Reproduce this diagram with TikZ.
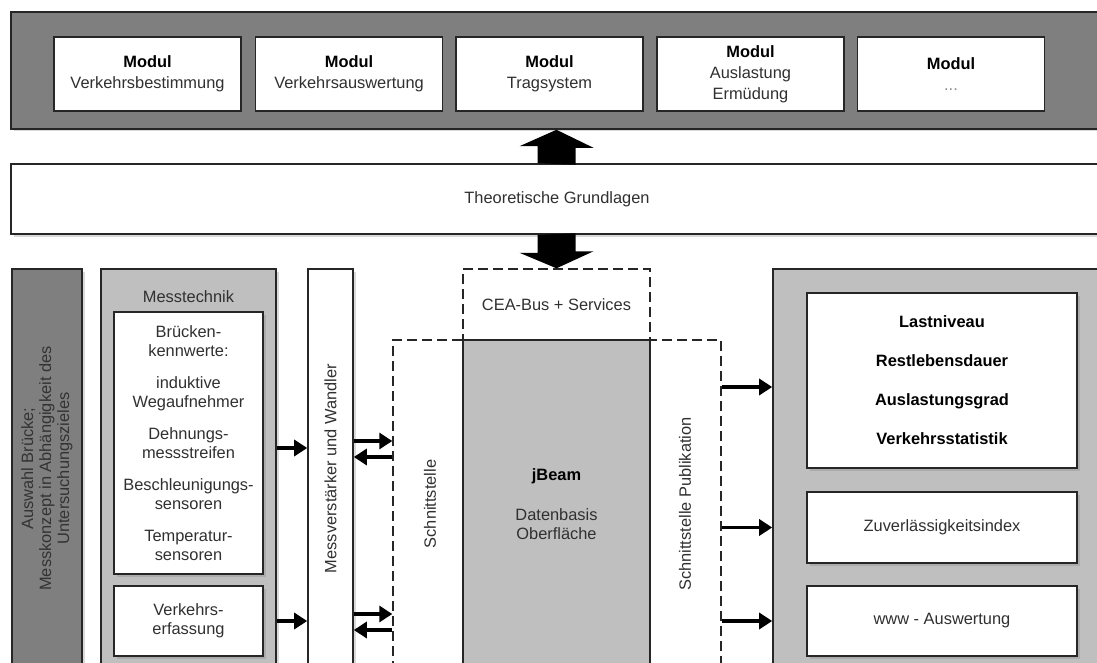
\documentclass[tikz,border=0pt]{standalone}
\usepackage{fontspec}
\setmainfont{Liberation Sans}
\usetikzlibrary{calc,arrows.meta,shadows}

\definecolor{darkfill}{HTML}{7F7F7F}
\definecolor{lightfill}{HTML}{BFBFBF}
\definecolor{framecol}{HTML}{262626}
\definecolor{txtcol}{HTML}{303030}

\tikzset{
  txt/.style={inner sep=0pt, align=center, text=txtcol, font=\fontsize{16.4}{19}\selectfont},
  box/.style={txt, draw=framecol, line width=1.6pt},
  shadowbox/.style={box, drop shadow={shadow xshift=2.5pt, shadow yshift=-2.5pt, opacity=0.3}},
  darkbox/.style={shadowbox, fill=darkfill},
  greybox/.style={shadowbox, fill=lightfill},
  whitebox/.style={shadowbox, fill=white},
  modbox/.style={whitebox, minimum width=187, minimum height=74, font=\fontsize{16.4}{21}\selectfont},
  dashedbox/.style={box, line width=1.4pt, dash pattern=on 10pt off 5pt},
  arr/.style={line width=3.4pt, -{Triangle[length=13pt,width=16pt]}},
}

\begin{document}
\begin{tikzpicture}[x=1pt,y=-1pt]
			\useasboundingbox (0,0) rectangle (1097,663);
			\clip (0,0) rectangle (1097,663);
			
			%%%%% Module %%%%%
			\node (band) [darkbox, minimum width=1092, minimum height=117] at (557,70.5) {};
			\node (mod1) [modbox] at (147.5,74) {\textbf{\color{black}Modul}\\Verkehrsbestimmung};
			\node (mod2) [modbox] at (349,74) {\textbf{\color{black}Modul}\\Verkehrsauswertung};
			\node (mod3) [modbox] at (549.5,74) {\textbf{\color{black}Modul}\\Tragsystem};
			\node (mod4) [modbox] at (750.5,74) {\textbf{\color{black}Modul}\\Auslastung\\Ermüdung};
			\node (mod5) [modbox] at (951,74) {\textbf{\color{black}Modul}\\\textcolor{black!45}{...}};
			
			%%%%% Grundlagen %%%%%
			\node (theo) [whitebox, minimum width=1092, minimum height=70] at (557,199) {Theoretische Grundlagen};
			
			%%%%% Messung %%%%%
			\node (sel) [darkbox, minimum width=70, minimum height=399] at (47,468.5) {};
			\node (seltext) [txt, rotate=90, text=black!80, font=\fontsize{16.4}{18}\selectfont] at (sel) {Auswahl Brücke;\\Messkonzept in Abhängigkeit des\\Untersuchungszieles};
			
			\node (mt) [greybox, minimum width=175, minimum height=399] at (188.5,468.5) {};
			\node (mttitle) [txt] at (188.5,297) {Messtechnik};
			\node (bru) [whitebox, minimum width=149, minimum height=262] at (188.5,443) {Brücken-\\kennwerte:\\[13pt]induktive\\Wegaufnehmer\\[13pt]Dehnungs-\\messstreifen\\[13pt]Beschleunigungs-\\sensoren\\[13pt]Temperatur-\\sensoren};
			\node (vk) [whitebox, minimum width=149, minimum height=70] at (188.5,621) {Verkehrs-\\erfassung};
			
			\node (mv) [whitebox, minimum width=45, minimum height=399] at (330.5,468.5) {};
			\node (mvtext) [txt, rotate=90] at (mv) {Messverstärker und Wandler};
			
			%%%%% jBeam %%%%%
			\node (cea) [dashedbox, minimum width=187, minimum height=71] at (556.5,304.5) {CEA-Bus + Services};
			\node (si) [dashedbox, minimum width=328, minimum height=328] at (557,504) {};
			\node (jb) [box, fill=lightfill, minimum width=187, minimum height=328] at (556.5,504) {\textbf{\color{black}jBeam}\\[21pt]Datenbasis\\Oberfläche};
			\node (sitext) [txt, rotate=90] at (430,504) {Schnittstelle};
			\node (pubtext) [txt, rotate=90] at (685,504) {Schnittstelle Publikation};
			
			%%%%% Ergebnisse %%%%%
			\node (rg) [greybox, minimum width=337, minimum height=399] at (941.5,468.5) {};
			\node (r1) [whitebox, minimum width=270, minimum height=175, text=black, font=\fontsize{16.4}{19}\selectfont\bfseries] at (942,380.5) {Lastniveau\\[20pt]Restlebensdauer\\[20pt]Auslastungsgrad\\[20pt]Verkehrsstatistik};
			\node (r2) [whitebox, minimum width=270, minimum height=71] at (942,527.5) {Zuverlässigkeitsindex};
			\node (r3) [whitebox, minimum width=270, minimum height=70] at (942,621) {www - Auswertung};
			
			%%%%% Pfeile %%%%%
			\fill[black] ($(theo.north -| cea)+(-19,0)$) -- ++(0,-17) -- ++(-18,0) -- (band.south -| cea) -- ++(37,18) -- ++(-18,0) -- ++(0,17) -- cycle;
			\fill[black] ($(theo.south -| cea)+(-19,0)$) -- ++(0,18) -- ++(-18,0) -- (cea.north) -- ++(37,-17) -- ++(-18,0) -- ++(0,-18) -- cycle;
			
			\draw[arr] ($(bru.east -| mt.east)+(0,5)$) -- ($(bru.east -| mv.west)+(0,5)$);
			\draw[arr] (vk.east -| mt.east) -- (vk.east -| mv.west);
			
			\draw[arr] ($(bru.east -| mv.east)+(0,-2)$) -- ($(bru.east -| si.west)+(0,-2)$);
			\draw[arr] ($(bru.east -| si.west)+(0,14)$) -- ($(bru.east -| mv.east)+(0,14)$);
			\draw[arr] ($(vk.east -| mv.east)+(0,-7)$) -- ($(vk.east -| si.west)+(0,-7)$);
			\draw[arr] ($(vk.east -| si.west)+(0,9)$) -- ($(vk.east -| mv.east)+(0,9)$);
			
			\draw[arr] ($(r1.west -| si.east)+(0,6.5)$) -- ($(r1.west -| rg.west)+(0,6.5)$);
			\draw[arr] (r2.west -| si.east) -- (r2.west -| rg.west);
			\draw[arr] (r3.west -| si.east) -- (r3.west -| rg.west);
			
			%%%%% END %%%%%
\end{tikzpicture}
\end{document}
